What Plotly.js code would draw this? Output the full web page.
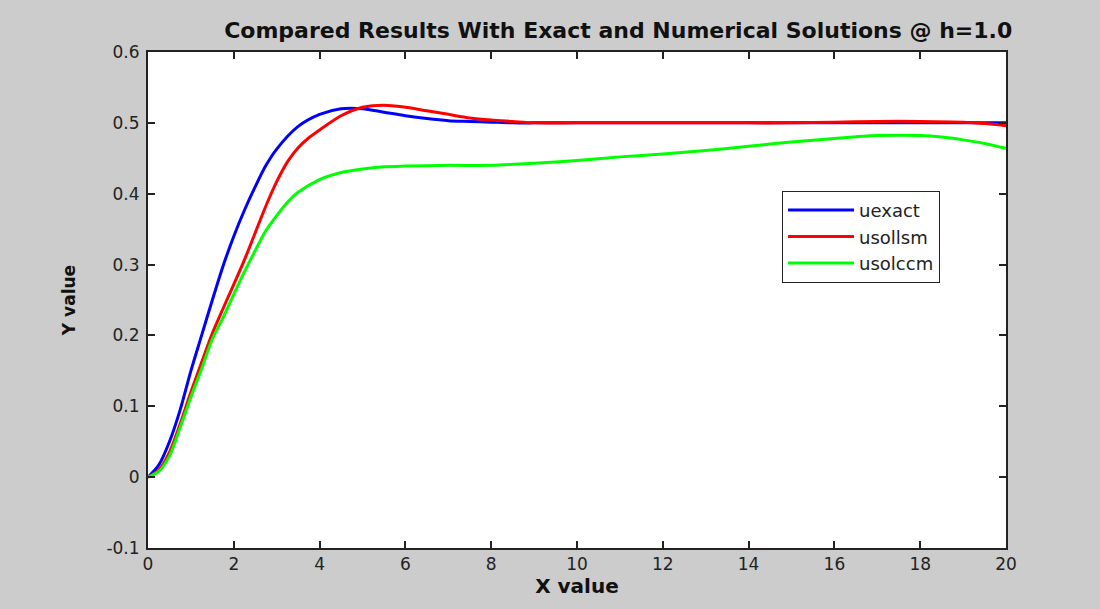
<!DOCTYPE html>
<html>
<head>
<meta charset="utf-8">
<script src="https://cdn.plot.ly/plotly-3.0.1.min.js"></script>
<style>html,body{margin:0;padding:0;background:#cccccc;}#chart{width:1100px;height:609px;}</style>
</head>
<body>
<div id="chart"></div>
<script>
var xExact = [0,0.25,0.5,0.75,1,1.25,1.5,1.75,2,2.25,2.5,2.75,3,3.5,4,4.5,5,5.5,6,6.5,7,7.5,8,8.5,9,10,11,12,13,14,15,16,17,18,19,20];
var uexact = [0,0.017,0.05,0.095,0.15,0.2,0.25,0.298,0.34,0.377,0.41,0.44,0.463,0.495,0.512,0.52,0.52,0.515,0.51,0.506,0.503,0.502,0.501,0.5,0.5,0.5,0.5,0.5,0.5,0.5,0.5,0.5,0.5,0.5,0.5,0.5];

var xLlsm = [0,0.25,0.5,0.75,1,1.25,1.5,1.75,2,2.25,2.5,2.75,3,3.25,3.5,3.75,4,4.5,5,5.5,6,6.5,7,7.5,8,8.5,9,10,11,12,13,14,15,16,17,18,19,19.5,20];
var usollsm = [0,0.01,0.035,0.075,0.12,0.162,0.203,0.238,0.272,0.307,0.345,0.383,0.417,0.445,0.465,0.479,0.49,0.51,0.522,0.525,0.522,0.517,0.512,0.507,0.504,0.502,0.5,0.5,0.5,0.5,0.5,0.5,0.5,0.501,0.502,0.502,0.501,0.499,0.496];

var xLccm = [0,0.25,0.5,0.75,1,1.25,1.5,1.75,2,2.25,2.5,2.75,3,3.25,3.5,4,4.5,5,5.5,6,7,8,9,10,11,12,13,14,15,16,17,18,18.5,19,19.5,20];
var usolccm = [0,0.008,0.03,0.07,0.113,0.153,0.195,0.225,0.258,0.29,0.32,0.348,0.369,0.388,0.402,0.42,0.43,0.435,0.438,0.439,0.44,0.44,0.443,0.447,0.452,0.456,0.461,0.467,0.473,0.478,0.482,0.482,0.48,0.476,0.471,0.464];

var seriesNames = ['uexact','usollsm','usolccm'];
var yTickVals = [-0.1,0,0.1,0.2,0.3,0.4,0.5,0.6];
var yTickText = ['-0.1','0','0.1','0.2','0.3','0.4','0.5','0.6'];
var xTickVals = [0,2,4,6,8,10,12,14,16,18,20];

var FONT = 'DejaVu Sans, Verdana, sans-serif';

var traces = [
  {x:xExact, y:uexact, name:seriesNames[0], mode:'lines', line:{color:'#0000ff', width:3, shape:'spline', smoothing:0.8}},
  {x:xLlsm, y:usollsm, name:seriesNames[1], mode:'lines', line:{color:'#ff0000', width:3, shape:'spline', smoothing:0.8}},
  {x:xLccm, y:usolccm, name:seriesNames[2], mode:'lines', line:{color:'#00ff00', width:3, shape:'spline', smoothing:0.8}}
];

var axisCommon = {
  showgrid:false, zeroline:false, showline:true, linecolor:'#222222', linewidth:2,
  mirror:'ticks', ticks:'inside', ticklen:7, tickwidth:2, tickcolor:'#222222',
  tickfont:{family:FONT, size:17, color:'#222222'}
};

var layout = {
  width:1100, height:609,
  paper_bgcolor:'#cccccc', plot_bgcolor:'#ffffff',
  margin:{l:148, r:94, t:52, b:61},
  showlegend:true,
  title:{text:'Compared Results With Exact and Numerical Solutions @ h=1.0', x:0.548, xanchor:'center', xref:'paper', y:0.951, yanchor:'middle',
    font:{family:FONT, size:22, color:'#111111', weight:'bold'}},
  xaxis: Object.assign({}, axisCommon, {range:[0,20], tickvals:xTickVals, ticktext:xTickVals.map(String),
    title:{text:'<b>X value</b>', standoff:4, font:{family:FONT, size:20, color:'#111111'}}}),
  yaxis: Object.assign({}, axisCommon, {range:[-0.1,0.6], tickvals:yTickVals, ticktext:yTickText, ticklabelstandoff:3,
    title:{text:'<b>Y value</b>', standoff:26, font:{family:FONT, size:17, color:'#111111'}}}),
  legend:{x:0.739, y:0.72, xanchor:'left', yanchor:'top', bgcolor:'#ffffff', bordercolor:'#222222', borderwidth:1,
    itemwidth:66, font:{family:FONT, size:18, color:'#222222'}}
};

Plotly.newPlot('chart', traces, layout, {displayModeBar:false, staticPlot:true});
</script>
</body>
</html>
